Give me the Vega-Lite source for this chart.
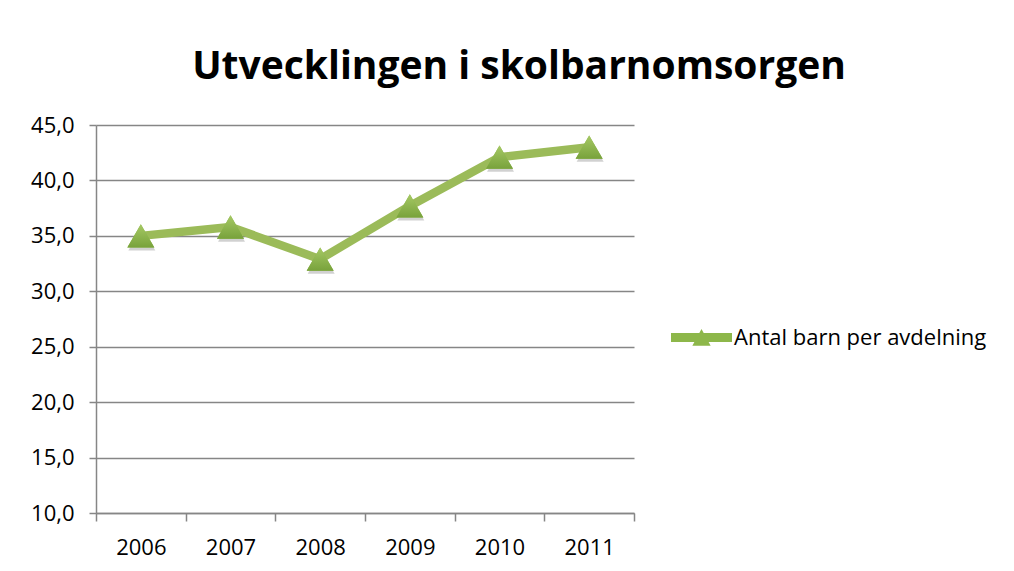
{
  "$schema": "https://vega.github.io/schema/vega-lite/v6.json",
  "width": 538,
  "height": 388,
  "autosize": {"type": "none"},
  "padding": {"left": 96, "top": 125, "right": 380, "bottom": 58},
  "background": "white",
  "title": {
    "text": "Utvecklingen i skolbarnomsorgen",
    "font": "Open Sans",
    "fontWeight": "bold",
    "fontSize": 39,
    "color": "#000000",
    "anchor": "middle",
    "frame": "group",
    "dx": 154,
    "baseline": "alphabetic",
    "offset": -4
  },
  "config": {
    "view": {"stroke": null},
    "axis": {
      "labelFont": "Open Sans",
      "labelFontSize": 22,
      "labelColor": "#000000",
      "domainColor": "#868686",
      "tickColor": "#868686",
      "gridColor": "#868686",
      "domainWidth": 1.5,
      "tickWidth": 1.5,
      "gridWidth": 1.5
    }
  },
  "data": {
    "values": [
      {"year": 2006, "value": 35.0, "series": "Antal barn per avdelning"},
      {"year": 2007, "value": 35.8, "series": "Antal barn per avdelning"},
      {"year": 2008, "value": 32.9, "series": "Antal barn per avdelning"},
      {"year": 2009, "value": 37.7, "series": "Antal barn per avdelning"},
      {"year": 2010, "value": 42.1, "series": "Antal barn per avdelning"},
      {"year": 2011, "value": 43.0, "series": "Antal barn per avdelning"}
    ]
  },
  "encoding": {
    "x": {
      "field": "year",
      "type": "quantitative",
      "scale": {"domain": [2005.5, 2011.5], "nice": false, "zero": false},
      "axis": {
        "title": null,
        "grid": false,
        "values": [2005.5, 2006.5, 2007.5, 2008.5, 2009.5, 2010.5, 2011.5],
        "labelExpr": "datum.value < 2011 ? toString(datum.value + 0.5) : ''",
        "labelOffset": 44.8,
        "labelAlign": "center",
        "tickSize": 8,
        "labelPadding": 16,
        "labelFlush": false,
        "labelOverlap": false
      }
    },
    "y": {
      "field": "value",
      "type": "quantitative",
      "scale": {"domain": [10, 45], "nice": false, "zero": false},
      "axis": {
        "title": null,
        "grid": true,
        "values": [10, 15, 20, 25, 30, 35, 40, 45],
        "labelExpr": "replace(format(datum.value, '.1f'), '.', ',')",
        "tickSize": 7,
        "labelPadding": 15
      }
    }
  },
  "layer": [
    {
      "mark": {"type": "line", "color": "#9BBB59", "strokeWidth": 8.5, "strokeCap": "round", "strokeJoin": "round"}
    },
    {
      "mark": {"type": "point", "shape": "triangle-up", "size": 730, "filled": true, "color": "#000000", "opacity": 0.18, "yOffset": 3, "xOffset": 1}
    },
    {
      "mark": {"type": "point", "shape": "triangle-up", "size": 730, "filled": true, "opacity": 1},
      "encoding": {
        "color": {
          "field": "series",
          "type": "nominal",
          "scale": {"range": ["#8DB74A"]},
          "legend": {
            "title": null,
            "orient": "none",
            "legendX": 575,
            "legendY": 182,
            "symbolType": "M-1,-0.15L1,-0.15L1,0.15L-1,0.15Z M-0.3,0.27L0,-0.28L0.3,0.27Z",
            "symbolSize": 3721,
            "symbolStrokeWidth": 0,
            "symbolOpacity": 1,
            "labelFont": "Open Sans",
            "labelFontSize": 22,
            "labelColor": "#000000",
            "labelOffset": 2,
            "labelLimit": 400
          }
        }
      }
    },
    {
      "mark": {
        "type": "point",
        "shape": "triangle-up",
        "size": 730,
        "filled": true,
        "opacity": 1,
        "fill": {
          "gradient": "linear",
          "x1": 0, "y1": 0, "x2": 0, "y2": 1,
          "stops": [
            {"offset": 0, "color": "#A6C965"},
            {"offset": 1, "color": "#78A23B"}
          ]
        }
      }
    }
  ]
}
